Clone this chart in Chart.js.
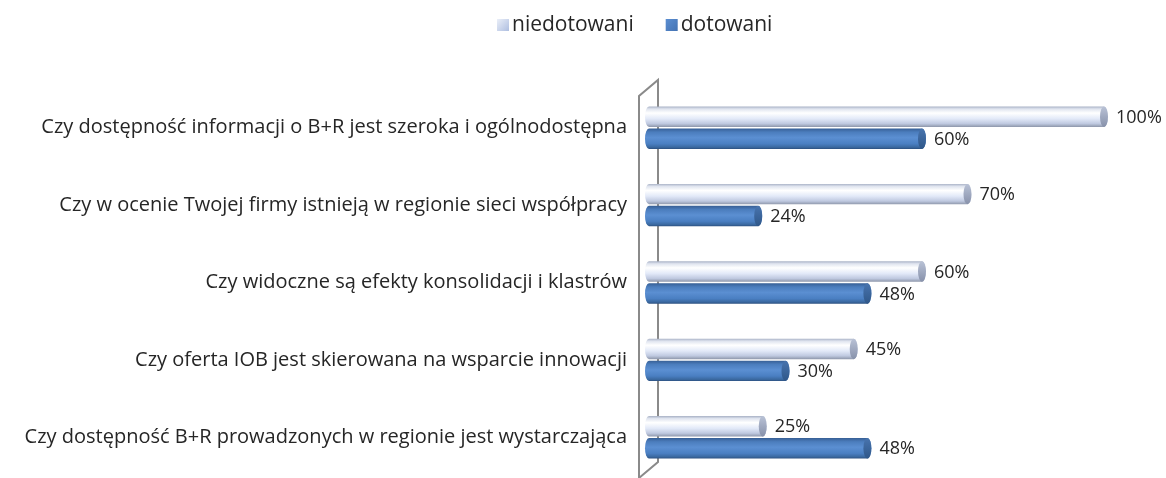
<!DOCTYPE html>
<html>
<head>
<meta charset="utf-8">
<script src="https://cdn.jsdelivr.net/npm/chart.js@4.4.1/dist/chart.umd.min.js"></script>
<style>
  html, body { margin: 0; padding: 0; background: #ffffff; }
  #wrap { width: 1166px; height: 478px; }
</style>
</head>
<body>
<div id="wrap"><canvas id="c" width="1166" height="478"></canvas></div>
<script>
const categories = [
  'Czy dostępność informacji o B+R jest szeroka i ogólnodostępna',
  'Czy w ocenie Twojej firmy istnieją w regionie sieci współpracy',
  'Czy widoczne są efekty konsolidacji i klastrów',
  'Czy oferta IOB jest skierowana na wsparcie innowacji',
  'Czy dostępność B+R prowadzonych w regionie jest wystarczająca'
];
const niedotowani = [100, 70, 60, 45, 25];
const dotowani = [60, 24, 48, 30, 48];
const seriesNames = ['niedotowani', 'dotowani'];
const valueSuffix = '%';

const FONT = "'Open Sans', 'Noto Sans', sans-serif";
const TEXT = '#262626';

const styles = [
  { // light
    stops: [[0, '#a9b2c6'], [0.12, '#dfe4ef'], [0.32, '#ffffff'], [0.6, '#e2e9f8'], [0.84, '#bfc9e0'], [1, '#8e97ab']],
    cap: ['#b9c2d6', '#8791aa']
  },
  { // dark
    stops: [[0, '#375f95'], [0.18, '#4b7dbd'], [0.45, '#5b8fd2'], [0.75, '#4a7fc2'], [0.92, '#3a689f'], [1, '#2c5080']],
    cap: ['#4874ae', '#2f5789']
  }
];

const cylinderPlugin = {
  id: 'cylinders',
  beforeDatasetsDraw(chart) {
    const ca = chart.chartArea, ctx = chart.ctx;
    const l = ca.left - 10, r = ca.left + 9;
    ctx.save();
    ctx.strokeStyle = '#8a8a8a';
    ctx.lineWidth = 2;
    ctx.beginPath();
    ctx.moveTo(l, 500);
    ctx.lineTo(l, ca.top + 7);
    ctx.lineTo(r, ca.top - 9);
    ctx.lineTo(r, ca.bottom - 14);
    ctx.lineTo(l, ca.bottom + 2);
    ctx.stroke();
    ctx.restore();
  },
  beforeDatasetDraw(chart, args) {
    const ctx = chart.ctx;
    const meta = args.meta;
    const st = styles[args.index];
    ctx.save();
    meta.data.forEach((el) => {
      const p = el.getProps(['x', 'y', 'base', 'height'], true);
      const h = p.height;
      const top = p.y - h / 2, bot = p.y + h / 2, cy = p.y;
      const left = p.base, right = p.x;
      const rx = 4;
      const g = ctx.createLinearGradient(0, top, 0, bot);
      st.stops.forEach(s => g.addColorStop(s[0], s[1]));
      ctx.beginPath();
      ctx.ellipse(left, cy, rx, h / 2, 0, Math.PI / 2, Math.PI * 1.5, false);
      ctx.lineTo(right, top);
      ctx.ellipse(right, cy, rx, h / 2, 0, -Math.PI / 2, Math.PI / 2, false);
      ctx.closePath();
      ctx.fillStyle = g;
      ctx.fill();
      const cg = ctx.createLinearGradient(0, top, 0, bot);
      cg.addColorStop(0, st.cap[0]);
      cg.addColorStop(1, st.cap[1]);
      ctx.beginPath();
      ctx.ellipse(right, cy, rx, h / 2, 0, 0, Math.PI * 2);
      ctx.fillStyle = cg;
      ctx.fill();
    });
    ctx.restore();
    return false;
  },
  afterDatasetsDraw(chart) {
    const ctx = chart.ctx;
    ctx.save();
    ctx.font = '18px ' + FONT;
    ctx.fillStyle = TEXT;
    ctx.textBaseline = 'middle';
    ctx.textAlign = 'left';
    chart.data.datasets.forEach((ds, di) => {
      const meta = chart.getDatasetMeta(di);
      meta.data.forEach((el, i) => {
        ctx.fillText(ds.data[i] + valueSuffix, el.x + 12, el.y + 1);
      });
    });
    // legend
    ctx.font = '21px ' + FONT;
    const items = seriesNames.map((n) => ({ n, w: ctx.measureText(n).width }));
    const box = 12, gap = 3, between = 32;
    let x = 497;
    const ly = 25;
    items.forEach((it, i) => {
      const g = ctx.createLinearGradient(x, ly - 5, x + box, ly + 6);
      if (i === 0) { g.addColorStop(0, '#e8edf7'); g.addColorStop(1, '#aebee0'); }
      else { g.addColorStop(0, '#5a8dd0'); g.addColorStop(1, '#4473b3'); }
      ctx.fillStyle = g;
      ctx.fillRect(x, ly - 6, box, 12);
      ctx.fillStyle = TEXT;
      ctx.fillText(it.n, x + box + gap, ly);
      x += box + gap + it.w + between;
    });
    ctx.restore();
  }
};

new Chart(document.getElementById('c'), {
  type: 'bar',
  data: {
    labels: categories,
    datasets: [
      { label: seriesNames[0], data: niedotowani, backgroundColor: '#dfe6f3' },
      { label: seriesNames[1], data: dotowani, backgroundColor: '#4f81bd' }
    ]
  },
  options: {
    indexAxis: 'y',
    responsive: false,
    animation: false,
    devicePixelRatio: 1,
    categoryPercentage: 0.568,
    barPercentage: 0.93,
    layout: { padding: { top: 89, bottom: 2, right: 62, left: 0 } },
    plugins: { legend: { display: false }, tooltip: { enabled: false } },
    scales: {
      x: { display: false, min: 0, max: 100 },
      y: {
        afterFit(s) { s.width = 649; s.paddingTop = 0; s.paddingBottom = 0; },
        grid: { display: false },
        border: { display: false },
        ticks: { padding: 14, color: TEXT, font: { family: FONT, size: 20 } }
      }
    }
  },
  plugins: [cylinderPlugin]
});
</script>
</body>
</html>
